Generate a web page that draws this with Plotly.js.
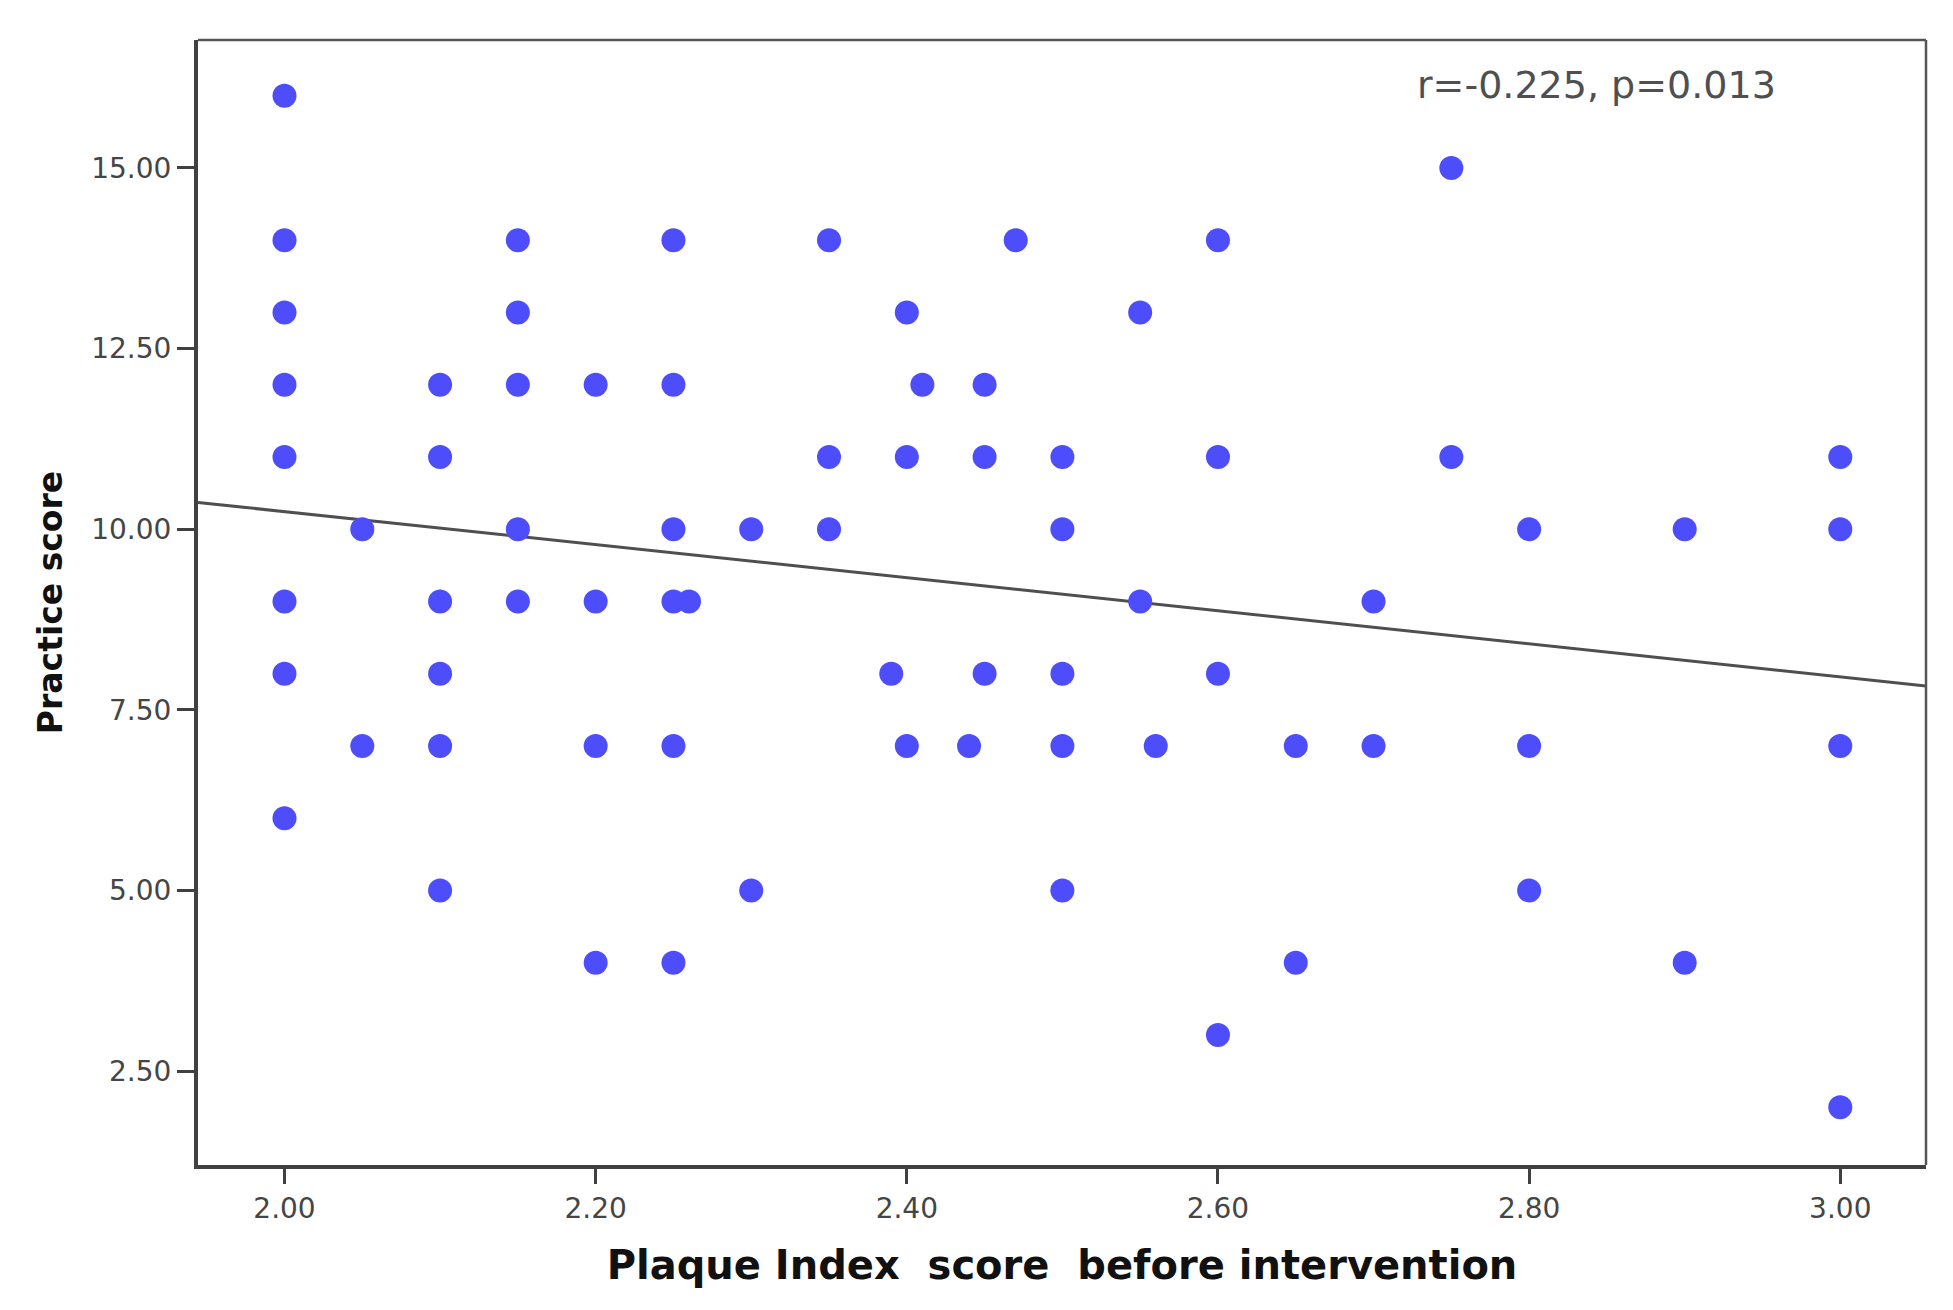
<!DOCTYPE html>
<html>
<head>
<meta charset="utf-8">
<script src="https://cdn.plot.ly/plotly-3.0.1.min.js"></script>
<style>html,body{margin:0;padding:0;background:#fff;}#chart{width:1953px;height:1310px;}</style>
</head>
<body>
<div id="chart"></div>
<script>
// Plaque Index score before intervention (x) vs Practice score (y)
const plaqueIndex = [
  2.00, 2.00, 2.00, 2.00, 2.00, 2.00, 2.00, 2.00,
  2.05, 2.05,
  2.10, 2.10, 2.10, 2.10, 2.10, 2.10,
  2.15, 2.15, 2.15, 2.15, 2.15,
  2.20, 2.20, 2.20, 2.20,
  2.25, 2.25, 2.25, 2.25, 2.25, 2.25,
  2.26,
  2.30, 2.30,
  2.35, 2.35, 2.35,
  2.39,
  2.40, 2.40, 2.40,
  2.41,
  2.44,
  2.45, 2.45, 2.45,
  2.47,
  2.50, 2.50, 2.50, 2.50, 2.50,
  2.55, 2.55,
  2.56,
  2.60, 2.60, 2.60, 2.60,
  2.65, 2.65,
  2.70, 2.70,
  2.75, 2.75,
  2.80, 2.80, 2.80,
  2.90, 2.90,
  3.00, 3.00, 3.00, 3.00
];
const practiceScore = [
  16, 14, 13, 12, 11, 9, 8, 6,
  10, 7,
  12, 11, 9, 8, 7, 5,
  14, 13, 12, 10, 9,
  12, 9, 7, 4,
  14, 12, 10, 9, 7, 4,
  9,
  10, 5,
  14, 11, 10,
  8,
  13, 11, 7,
  12,
  7,
  12, 11, 8,
  14,
  11, 10, 8, 7, 5,
  13, 9,
  7,
  14, 11, 8, 3,
  7, 4,
  9, 7,
  15, 11,
  10, 7, 5,
  10, 4,
  11, 10, 7, 2
];
// Fit line endpoints (at the plot edges)
const fitX = [1.9444, 3.0551];
const fitY = [10.37, 7.83];
const xTicks = [2.0, 2.2, 2.4, 2.6, 2.8, 3.0];
const yTicks = [2.5, 5.0, 7.5, 10.0, 12.5, 15.0];
const statsText = "r=-0.225, p=0.013";

const traces = [
  {
    x: fitX, y: fitY, type: 'scatter', mode: 'lines',
    line: {color: '#4f4f4f', width: 3},
    hoverinfo: 'skip', showlegend: false
  },
  {
    x: plaqueIndex, y: practiceScore, type: 'scatter', mode: 'markers',
    marker: {color: '#4d4dfb', size: 24, line: {width: 0}},
    showlegend: false
  }
];

const tickFont = {family: 'DejaVu Sans', size: 28, color: '#454545'};
const layout = {
  width: 1953, height: 1310,
  paper_bgcolor: '#ffffff', plot_bgcolor: '#ffffff',
  margin: {l: 198, r: 27, t: 40, b: 145},
  showlegend: false,
  xaxis: {
    range: [1.9444, 3.0551],
    tickvals: xTicks, tickformat: '.2f',
    ticks: 'outside', ticklen: 15, tickwidth: 3, tickcolor: '#404040',
    showline: true, linecolor: '#404040', linewidth: 4,
    showgrid: false, zeroline: false,
    tickfont: tickFont,
    title: {text: 'Plaque Index\u00A0 score\u00A0 before intervention',
            font: {family: 'DejaVu Sans', size: 40, weight: 'bold', color: '#111111'},
            standoff: 28}
  },
  yaxis: {
    range: [1.2, 16.77],
    tickvals: yTicks, tickformat: '.2f',
    ticks: 'outside', ticklen: 17, tickwidth: 3, tickcolor: '#404040',
    showline: true, linecolor: '#404040', linewidth: 4,
    showgrid: false, zeroline: false,
    tickfont: tickFont,
    title: {text: 'Practice score',
            font: {family: 'DejaVu Sans', size: 33, weight: 'bold', color: '#111111'},
            standoff: 20}
  },
  shapes: [
    {type: 'line', xref: 'paper', yref: 'paper', x0: 0, x1: 1, y0: 1, y1: 1,
     line: {color: '#555555', width: 2.5}},
    {type: 'line', xref: 'paper', yref: 'paper', x0: 1, x1: 1, y0: 0, y1: 1,
     line: {color: '#555555', width: 2.5}}
  ],
  annotations: [
    {text: statsText, xref: 'paper', yref: 'paper', x: 0.8094, y: 0.960,
     xanchor: 'center', yanchor: 'middle', showarrow: false,
     font: {family: 'DejaVu Sans', size: 38, color: '#4f4f4f'}}
  ]
};

Plotly.newPlot('chart', traces, layout, {displayModeBar: false, staticPlot: true});
</script>
</body>
</html>
